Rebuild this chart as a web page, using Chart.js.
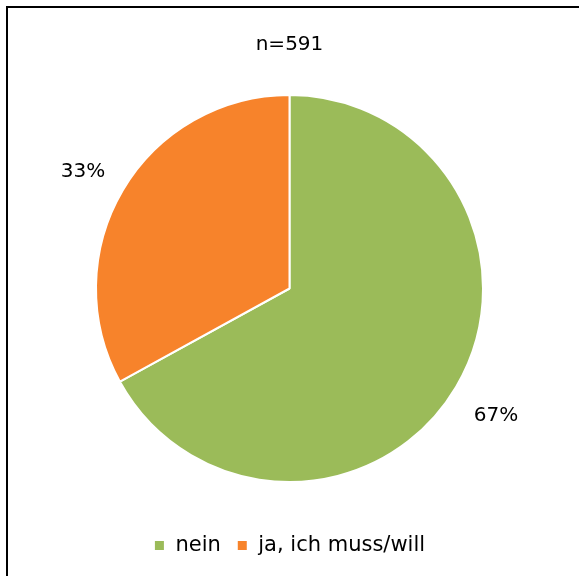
<!DOCTYPE html>
<html>
<head>
<meta charset="utf-8">
<script src="https://cdn.jsdelivr.net/npm/chart.js@4"></script>
<style>
  html, body { margin: 0; padding: 0; background: #fff; }
  #wrap { width: 579px; height: 576px; }
</style>
</head>
<body>
<div id="wrap"><canvas id="pieChart"></canvas></div>
<script>
const categories = ['nein', 'ja, ich muss/will'];
const shares = [67, 33];
const sliceColors = ['#9bbb59', '#f7832b'];
const sampleLabel = 'n=591';

const fontFamily = '"DejaVu Sans", sans-serif';

// frame line top/left like the cropped office chart
const framePlugin = {
  id: 'frame',
  beforeDraw(chart) {
    const c = chart.ctx;
    c.save();
    c.strokeStyle = '#000';
    c.lineWidth = 2;
    c.beginPath();
    c.moveTo(7, chart.height);
    c.lineTo(7, 7);
    c.lineTo(chart.width, 7);
    c.stroke();
    c.restore();
  }
};

// percent labels outside the slices
const outsideLabels = {
  id: 'outsideLabels',
  afterDatasetsDraw(chart) {
    const c = chart.ctx;
    const meta = chart.getDatasetMeta(0);
    c.save();
    c.font = '20px ' + fontFamily;
    c.fillStyle = '#000';
    c.textAlign = 'center';
    c.textBaseline = 'middle';
    meta.data.forEach((arc, i) => {
      const mid = (arc.startAngle + arc.endAngle) / 2;
      const r = arc.outerRadius * 1.24;
      // excel-ish placement: labels sit a bit lower than the exact bisector
      c.fillText(shares[i] + '%', arc.x + Math.cos(mid) * r, arc.y + Math.sin(mid) * r + 5);
    });
    c.restore();
  }
};

new Chart(document.getElementById('pieChart'), {
  type: 'pie',
  data: {
    labels: categories,
    datasets: [{
      data: shares,
      backgroundColor: sliceColors,
      borderColor: '#fff',
      borderWidth: 2
    }]
  },
  options: {
    responsive: true,
    maintainAspectRatio: false,
    animation: false,
    layout: { padding: { top: 20, bottom: 10 } },
    plugins: {
      title: {
        display: true,
        text: sampleLabel,
        color: '#000',
        font: { family: fontFamily, size: 20, weight: 'normal' },
        padding: { top: 13, bottom: 37 }
      },
      legend: {
        position: 'bottom',
        title: { display: true, text: '', font: { size: 10 }, padding: { top: 24, bottom: 0 } },
        labels: {
          color: '#000',
          font: { family: fontFamily, size: 21 },
          boxWidth: 11,
          boxHeight: 11,
          padding: 16
        }
      },
      tooltip: { enabled: false }
    }
  },
  plugins: [framePlugin, outsideLabels]
});
</script>
</body>
</html>
